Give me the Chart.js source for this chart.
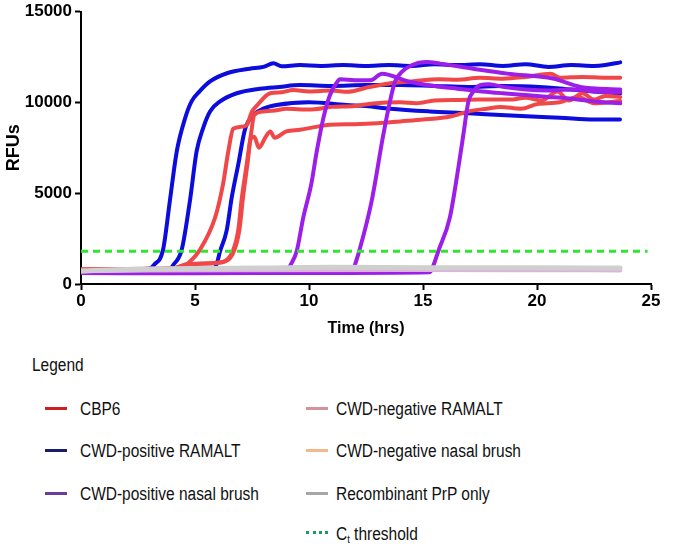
<!DOCTYPE html>
<html>
<head>
<meta charset="utf-8">
<script src="https://cdn.jsdelivr.net/npm/chart.js@4"></script>
<style>
  html, body { margin: 0; padding: 0; background: #fff; }
  #wrap { position: relative; width: 680px; height: 547px; overflow: hidden; font-family: "Liberation Sans", Arial, sans-serif; color: #111; }
  #box { position: absolute; left: 0; top: 0; width: 680px; height: 345px; }
  .lg { position: absolute; font-size: 18px; line-height: 20px; white-space: nowrap; transform: scaleX(0.86); transform-origin: 0 50%; }
  .sw { position: absolute; height: 3px; width: 22px; }
  .dot { position: absolute; width: 22px; height: 0; border-top: 3px dotted #1a9e5c; }
  sub { font-size: 11px; vertical-align: -3px; }
</style>
</head>
<body>
<div id="wrap">
  <div id="box"><canvas id="chart"></canvas></div>
  <div id="legend"></div>
</div>
<script>
// tick values (hrs / RFUs)
const xTickValues = [0, 5, 10, 15, 20, 25];
const yTickValues = [0, 5000, 10000, 15000];

// [time (hrs), RFU]
// CBP6 (red)
const cbp6A = [[0,800],[3,840],[4.5,900],[4.63,1050],[5.2,1850],[5.88,3650],[6.23,5500],[6.46,7300],[6.68,8550],[7.0,8650],[7.27,8750],[7.5,9500],[7.7,9800],[8.3,10500],[8.8,10550],[9.3,10680],[10,10600],[11,10650],[11.7,10580],[12.5,10800],[13.5,11040],[14.5,11150],[15.7,11270],[16.5,11250],[17.5,11350],[18.5,11300],[19.5,11400],[20.6,11580],[21,11350],[22,11400],[23,11350],[23.65,11350]];
const cbp6B = [[0,800],[4,850],[4.7,1100],[6.17,1200],[6.67,1850],[6.9,3000],[7.05,4700],[7.27,6600],[7.45,8200],[7.6,9300],[8.0,9500],[8.5,9550],[9,9650],[10,9600],[11,9750],[12,9800],[12.8,9940],[14,10000],[14.7,9950],[15.5,10100],[16.6,10130],[17.5,10150],[18.8,10150],[19.5,10250],[20.2,10100],[20.9,10600],[21.4,10100],[22.0,10500],[22.5,10150],[23,10350],[23.65,10300]];
const cbp6C = [[0,800],[4,850],[4.7,1100],[6.2,1200],[6.72,1850],[6.95,3000],[7.1,4700],[7.3,6600],[7.45,8000],[7.6,8100],[7.8,7500],[8.1,8100],[8.3,8400],[8.5,8050],[9,8400],[9.6,8490],[10.3,8650],[10.9,8770],[12,8800],[13,8850],[14,8950],[15,9050],[16.2,9220],[17,9500],[17.8,9650],[18.4,9750],[19.3,9650],[20,9900],[21,10000],[21.8,10300],[22.5,9950],[23.65,10070]];
// CWD-positive RAMALT (blue)
const ramaltPosA = [[0,750],[3.0,850],[3.2,1050],[3.6,1900],[3.9,4600],[4.2,7300],[4.56,9100],[4.85,10050],[5.2,10600],[5.66,11150],[6.4,11600],[7.4,11850],[8.0,11950],[8.44,12150],[8.8,11980],[9.6,12050],[10.5,12000],[11.5,12050],[12.5,12000],[13.5,12050],[14.5,12000],[15.5,12100],[16.5,12050],[17.5,12100],[18.5,12000],[19.5,12100],[20.5,11950],[21.5,12050],[22.5,12000],[23.0,12050],[23.65,12200]];
const ramaltPosB = [[0,750],[3.9,850],[4.05,1050],[4.42,1900],[4.78,4600],[5.07,7300],[5.36,8600],[5.66,9500],[6.1,10050],[6.83,10500],[7.85,10750],[8.7,10850],[9.6,10950],[11,10900],[12.5,10950],[14,10950],[15.5,10900],[17,10850],[18.5,10900],[20.1,10850],[21.5,10700],[22.5,10600],[23.65,10500]];
const ramaltPosC = [[0,750],[5.8,850],[5.95,1100],[6.1,1800],[6.39,2950],[6.61,4750],[6.9,6600],[7.19,8500],[7.55,9300],[8.0,9650],[8.58,9850],[10.0,10000],[11.65,9850],[12.5,9800],[13.55,9650],[15.3,9500],[17,9400],[18.4,9300],[20,9200],[21,9150],[22.5,9050],[23.64,9050]];
// CWD-positive nasal brush (purple)
const nasalPosA = [[0,600],[3,610],[6,620],[9.0,640],[9.17,1000],[9.46,1800],[9.75,3670],[10.1,5500],[10.34,7300],[10.63,9130],[10.92,10400],[11.2,11050],[11.36,11270],[12.0,11220],[12.7,11220],[13.2,11580],[14.4,11130],[15.5,10900],[16.5,10750],[17.6,10600],[18.5,10500],[19.5,10400],[20.5,10300],[21.3,10220],[22.5,10050],[23.65,9950]];
const nasalPosB = [[0,600],[4,600],[8,620],[11.9,640],[12.0,1000],[12.2,1800],[12.75,4580],[13.26,8220],[13.55,10040],[13.77,11130],[14.07,11670],[14.5,12040],[15.16,12220],[15.75,12130],[17.2,11850],[18.7,11580],[20.7,11310],[21.9,10850],[23.65,10700]];
const nasalPosC = [[0,600],[5,590],[10,610],[15.3,650],[15.45,1000],[15.67,1800],[16.18,3670],[16.55,6400],[16.77,8220],[16.99,10040],[17.2,10580],[17.5,10950],[17.9,11000],[18.5,10850],[19.5,10700],[20.5,10650],[21.5,10700],[22.5,10600],[23.65,10550]];
// CWD-negative RAMALT (pink), CWD-negative nasal brush (peach)
const ramaltNegA = [[0,700],[3,740],[8,760],[15,770],[20,760],[23.65,750]];
const nasalNegA = [[0,700],[3,780],[8,820],[15,840],[20,830],[23.65,820]];
// Recombinant PrP only (grey)
const rprpA = [[0,720],[0.5,740],[1.5,780],[3,820],[5,850],[8,880],[11,920],[15,900],[20,890],[23.65,880]];
// Ct threshold
const ctThreshold = [[0,1800],[24.85,1800]];

const seriesNames = ['CBP6', 'CWD-positive RAMALT', 'CWD-positive nasal brush',
  'CWD-negative RAMALT', 'CWD-negative nasal brush', 'Recombinant PrP only', 'C<sub>t</sub> threshold'];
const swatchColors = ['#cf1f1f', '#1b1d66', '#6a3c9c', '#d4939b', '#f3b98c', '#a6a6a6', '#1a9e5c'];

const RED = '#f04848', BLUE = '#0c0cdc', PURPLE = '#9c1ee8';

function line(points, color, width, order) {
  return {
    data: points.map(p => ({ x: p[0], y: p[1] })),
    borderColor: color, borderWidth: width, order,
    pointRadius: 0, fill: false, cubicInterpolationMode: 'monotone',
    borderCapStyle: 'round', borderJoinStyle: 'round'
  };
}

const datasets = [
  Object.assign(line(ctThreshold, '#2ee62e', 3, 0), { borderDash: [7, 5], cubicInterpolationMode: 'default', borderCapStyle: 'butt' }),
  line(rprpA, '#cfcfcf', 5, 1),
  line(ramaltNegA, '#dcb4d8', 4, 2),
  line(nasalNegA, '#f2c89c', 4, 3),
  line(nasalPosA, PURPLE, 4, 4),
  line(nasalPosB, PURPLE, 4, 4),
  line(nasalPosC, PURPLE, 4, 4),
  line(cbp6A, RED, 4, 5),
  line(cbp6B, RED, 4, 5),
  line(cbp6C, RED, 4, 5),
  line(ramaltPosA, BLUE, 4, 6),
  line(ramaltPosB, BLUE, 4, 6),
  line(ramaltPosC, BLUE, 4, 6)
];

const tickFont = { family: 'Liberation Sans, Arial', size: 17, weight: 'bold', lineHeight: 1 };

function axis(extra) {
  return Object.assign({
    type: 'linear',
    border: { display: true, color: '#000', width: 2 },
    grid: { drawOnChartArea: false, drawTicks: true, tickLength: 6, tickColor: '#000', tickWidth: 2 },
    ticks: { color: '#000', font: tickFont, padding: 3, callback: v => String(v) }
  }, extra);
}

new Chart(document.getElementById('chart'), {
  type: 'line',
  data: { datasets },
  options: {
    responsive: true, maintainAspectRatio: false, animation: false,
    layout: { padding: { left: 0, right: 29, top: 9, bottom: 0 } },
    plugins: { legend: { display: false }, tooltip: { enabled: false } },
    scales: {
      x: axis({
        min: 0, max: 25,
        afterBuildTicks: s => { s.ticks = xTickValues.map(v => ({ value: v })); },
        afterFit: s => { s.height = 61; },
        title: { display: true, text: 'Time (hrs)', color: '#000', font: { family: 'Liberation Sans, Arial', size: 16, weight: 'bold' }, padding: { top: 0, bottom: 7 } }
      }),
      y: axis({
        min: 0, max: 15000,
        afterBuildTicks: s => { s.ticks = yTickValues.map(v => ({ value: v })); },
        afterFit: s => { s.width = 81; },
        title: { display: true, text: 'RFUs', color: '#000', font: { family: 'Liberation Sans, Arial', size: 18, weight: 'bold' }, padding: { top: 3, bottom: 0 } }
      })
    }
  }
});

// legend, two columns below the plot
const rowsY = [408, 450, 493, 533];
const slots = [[0, 0], [0, 1], [0, 2], [1, 0], [1, 1], [1, 2], [1, 3]];
let html = '<div class="lg" style="left:32px;top:355px">Legend</div>';
seriesNames.forEach((name, i) => {
  const [col, row] = slots[i];
  const y = rowsY[row];
  const sx = col ? 306 : 45, tx = col ? 336 : 80;
  if (i === 6) html += `<div class="dot" style="left:${sx}px;top:${y - 2}px"></div>`;
  else html += `<div class="sw" style="left:${sx}px;top:${y - 1.5}px;background:${swatchColors[i]}"></div>`;
  html += `<div class="lg" style="left:${tx}px;top:${y - 9.5}px">${name}</div>`;
});
document.getElementById('legend').innerHTML = html;
</script>
</body>
</html>
